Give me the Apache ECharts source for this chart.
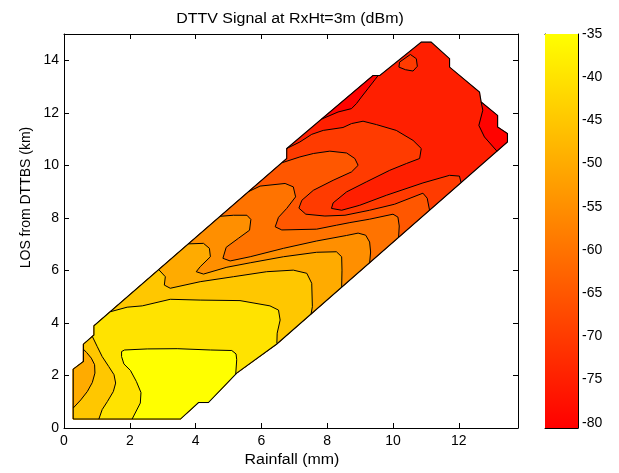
<!DOCTYPE html>
<html><head><meta charset="utf-8">
<script src="https://cdn.jsdelivr.net/npm/echarts@6/dist/echarts.min.js"></script>
<style>html,body{margin:0;padding:0;background:#fff}#c{width:619px;height:473px}</style>
</head><body><div id="c"></div>
<script>
// ---------------- data ----------------
const titleText = 'DTTV Signal at RxHt=3m (dBm)';
const xName = 'Rainfall (mm)';
const yName = 'LOS from DTTBS (km)';
const xTicks = [0, 2, 4, 6, 8, 10, 12];
const yTicks = [0, 2, 4, 6, 8, 10, 12, 14];
const cbTicks = [-80, -75, -70, -65, -60, -55, -50, -45, -40, -35];
const xMax = 13.8, yMax = 15;
const cMin = -80.6, cMax = -35;

// outline of the measured area (rainfall mm, distance km)
const domainEdge = [[0.28,0.34],[0.28,2.24],[0.59,2.53],[0.59,3.19],[0.91,3.54],[0.91,3.89],[6.77,10.26],[6.77,10.64],[9.39,13.42],[9.60,13.42],[10.86,14.69],[11.16,14.69],[11.72,14.06],[11.72,13.74],[12.63,12.79],[12.68,12.41],[13.18,11.90],[13.18,11.46],[13.48,11.21],[13.48,10.89],[6.47,3.20],[5.25,2.09],[4.39,0.97],[4.09,0.97],[3.54,0.34]];

// contour lines (dBm levels)
const lvN40 = [[2.07,0.34],[2.32,0.95],[2.34,1.35],[2.20,1.77],[2.02,2.19],[1.82,2.44],[1.75,2.72],[1.75,2.91],[1.84,2.97],[2.53,3.01],[3.44,3.02],[4.45,2.97],[5.10,2.95],[5.23,2.82],[5.25,2.60],[5.22,2.05]];
const lvN45a = [[1.06,0.34],[1.16,0.70],[1.32,1.01],[1.50,1.39],[1.57,1.71],[1.52,2.03],[1.36,2.34],[1.16,2.72],[1.01,3.10],[0.86,3.49]];
const lvN50a = [[0.28,0.76],[0.51,1.07],[0.71,1.39],[0.86,1.73],[0.94,2.09],[0.93,2.41],[0.83,2.66],[0.69,2.87],[0.59,3.00]];
const lvN45b = [[1.42,4.43],[1.92,4.60],[2.38,4.65],[3.23,4.90],[4.14,4.87],[5.35,4.85],[6.26,4.65],[6.52,4.49],[6.57,4.11],[6.48,3.61],[6.47,3.22]];
const lvN50b = [[2.88,6.03],[3.08,5.76],[3.05,5.44],[3.23,5.32],[4.14,5.57],[5.15,5.76],[6.16,5.95],[6.97,6.01],[7.38,5.89],[7.53,5.51],[7.55,4.62],[7.51,4.33]];
const lvN55 = [[3.78,7.01],[4.24,7.03],[4.42,6.84],[4.45,6.52],[4.14,6.14],[4.02,5.95],[4.24,5.86],[4.95,6.12],[5.66,6.29],[6.67,6.52],[7.68,6.69],[8.28,6.71],[8.44,6.52],[8.45,6.01],[8.44,5.37]];
const lvN60 = [[4.75,8.06],[5.15,8.10],[5.56,8.10],[5.68,7.94],[5.64,7.53],[5.30,7.22],[4.93,6.88],[4.83,6.46],[5.05,6.36],[5.66,6.52],[6.67,6.84],[7.68,7.12],[8.59,7.33],[8.94,7.42],[9.17,7.34],[9.29,7.08],[9.32,6.70],[9.29,6.29]];
const lvN65 = [[5.61,9.00],[5.96,9.21],[6.72,9.31],[6.97,9.18],[7.04,8.80],[6.77,8.36],[6.52,8.02],[6.42,7.66],[6.62,7.54],[7.68,7.57],[8.28,7.72],[8.69,7.82],[9.29,7.95],[10.00,8.14],[10.15,8.03],[10.19,7.69],[10.17,7.26]];
const lvN70 = [[6.63,10.10],[7.17,10.32],[7.58,10.45],[8.08,10.54],[8.59,10.47],[8.84,10.26],[8.94,10.00],[8.74,9.75],[8.18,9.43],[7.58,9.05],[7.23,8.67],[7.14,8.37],[7.35,8.14],[7.93,8.07],[8.54,8.10],[9.29,8.29],[10.05,8.52],[10.91,8.94],[11.04,8.75],[11.11,8.30]];
const lvN75 = [[6.77,10.64],[7.17,10.89],[7.53,11.18],[7.88,11.33],[8.48,11.44],[8.74,11.59],[9.09,11.68],[9.50,11.55],[10.10,11.33],[10.61,10.95],[10.86,10.64],[10.81,10.26],[10.41,10.07],[9.90,9.81],[9.19,9.37],[8.59,8.99],[8.18,8.57],[8.13,8.36],[8.44,8.29],[8.99,8.48],[9.80,8.86],[10.91,9.33],[11.72,9.62],[12.02,9.59],[12.07,9.34]];
const lvN75island = [[10.18,13.74],[10.20,13.93],[10.53,14.22],[10.71,14.06],[10.74,13.77],[10.61,13.59],[10.38,13.64]];
const lvN80a = [[7.83,11.76],[8.33,12.03],[8.74,12.16],[8.89,12.35],[9.04,12.60],[9.24,12.92],[9.45,13.26],[9.55,13.42]];
const lvN80b = [[12.68,12.41],[12.73,12.10],[12.61,11.52],[12.78,11.08],[13.16,10.54]];

// level, which side (away from the deep-red core) is higher, points
const contourSet = [
  {level: -40, side: 'hi', pts: lvN40},
  {level: -45, side: 'lo', pts: lvN45a},
  {level: -50, side: 'lo', pts: lvN50a},
  {level: -45, side: 'hi', pts: lvN45b},
  {level: -50, side: 'hi', pts: lvN50b},
  {level: -55, side: 'hi', pts: lvN55},
  {level: -60, side: 'hi', pts: lvN60},
  {level: -65, side: 'hi', pts: lvN65},
  {level: -70, side: 'hi', pts: lvN70},
  {level: -75, side: 'hi', pts: lvN75},
  {level: -75, side: 'hi', pts: lvN75island, closed: true},
  {level: -80, side: 'lo', pts: lvN80a},
  {level: -80, side: 'lo', pts: lvN80b}
];
const coreLevelBand = -75;   // band (-80,-75] fills the core
const corePoint = [11.5, 12.5];
const levelStep = 5;

// ---------------- helpers ----------------
function autumn(v) {
  const g = Math.max(0, Math.min(1, (v - cMin) / (cMax - cMin)));
  return 'rgb(255,' + Math.round(255 * g) + ',0)';
}
function inPoly(p, poly) {
  let c = false;
  for (let i = 0, j = poly.length - 1; i < poly.length; j = i++) {
    const a = poly[i], b = poly[j];
    if (((a[1] > p[1]) !== (b[1] > p[1])) &&
        (p[0] < (b[0] - a[0]) * (p[1] - a[1]) / (b[1] - a[1]) + a[0])) c = !c;
  }
  return c;
}
function area(poly) {
  let s = 0;
  for (let i = 0; i < poly.length; i++) {
    const a = poly[i], b = poly[(i + 1) % poly.length];
    s += a[0] * b[1] - b[0] * a[1];
  }
  return Math.abs(s / 2);
}
const ringN = domainEdge.length;
const cum = [0];
for (let i = 0; i < ringN; i++) {
  const a = domainEdge[i], b = domainEdge[(i + 1) % ringN];
  cum.push(cum[i] + Math.hypot(b[0] - a[0], b[1] - a[1]));
}
const ringLen = cum[ringN];
function ringPos(p) {
  let best = null;
  for (let i = 0; i < ringN; i++) {
    const a = domainEdge[i], b = domainEdge[(i + 1) % ringN];
    const dx = b[0] - a[0], dy = b[1] - a[1];
    const L2 = dx * dx + dy * dy;
    let t = L2 ? ((p[0] - a[0]) * dx + (p[1] - a[1]) * dy) / L2 : 0;
    t = Math.max(0, Math.min(1, t));
    const q = [a[0] + t * dx, a[1] + t * dy];
    const d = Math.hypot(q[0] - p[0], q[1] - p[1]);
    if (!best || d < best.d) best = {d: d, s: cum[i] + t * Math.sqrt(L2)};
  }
  return best.s;
}
function walkForward(sFrom, sTo) {
  const d = ((sTo - sFrom) % ringLen + ringLen) % ringLen;
  const out = [];
  for (let j = 0; j < ringN; j++) {
    const off = ((cum[j] - sFrom) % ringLen + ringLen) % ringLen;
    if (off > 1e-9 && off < d) out.push({off: off, p: domainEdge[j]});
  }
  out.sort((a, b) => a.off - b.off);
  return out.map(o => o.p);
}

// build fill regions
const regions = [];
contourSet.forEach(c => {
  let poly;
  if (c.closed) {
    poly = c.pts.slice();
  } else {
    const s0 = ringPos(c.pts[0]);
    const s1 = ringPos(c.pts[c.pts.length - 1]);
    const polyA = c.pts.concat(walkForward(s1, s0));
    const polyB = c.pts.concat(walkForward(s0, s1).reverse());
    poly = inPoly(corePoint, polyA) ? polyB : polyA;
  }
  const bandTop = c.side === 'hi' ? c.level + levelStep : c.level;
  regions.push({pts: poly, color: autumn(bandTop), a: area(poly)});
});
regions.sort((a, b) => b.a - a.a);
regions.unshift({pts: domainEdge, color: autumn(coreLevelBand), a: area(domainEdge)});

// ---------------- chart ----------------
const FONT = '"Liberation Sans", Arial, Helvetica, sans-serif';
const chart = echarts.init(document.getElementById('c'), null, {renderer: 'canvas'});

function mainAxis(pos, isX, withLabels) {
  const ticks = isX ? xTicks : yTicks;
  return {
    gridIndex: 0, type: 'value', position: pos,
    min: 0, max: isX ? xMax : yMax, interval: 2,
    axisLine: {show: true, onZero: false, lineStyle: {color: '#000', width: 1}},
    axisTick: {show: true, inside: true, length: 5, customValues: ticks, lineStyle: {color: '#000', width: 1}},
    axisLabel: {show: withLabels, customValues: ticks, color: '#000', fontSize: 14, fontFamily: FONT, margin: isX ? 6 : 5},
    splitLine: {show: false}
  };
}

const option = {
  animation: false,
  backgroundColor: '#fff',
  grid: [
    {left: 64, top: 34, width: 454, height: 394},
    {left: 545, top: 34, width: 33, height: 394}
  ],
  xAxis: [
    mainAxis('bottom', true, true),
    mainAxis('top', true, false),
    {gridIndex: 1, type: 'value', min: 0, max: 1, position: 'bottom',
     axisLine: {show: true, onZero: false, lineStyle: {color: '#000', width: 1}},
     axisTick: {show: false}, axisLabel: {show: false}, splitLine: {show: false}},
    {gridIndex: 1, type: 'value', min: 0, max: 1, position: 'top',
     axisLine: {show: true, onZero: false, lineStyle: {color: '#000', width: 1}},
     axisTick: {show: false}, axisLabel: {show: false}, splitLine: {show: false}}
  ],
  yAxis: [
    mainAxis('left', false, true),
    mainAxis('right', false, false),
    {gridIndex: 1, type: 'value', min: cMin, max: cMax, position: 'right',
     axisLine: {show: true, onZero: false, lineStyle: {color: '#000', width: 1}},
     axisTick: {show: true, inside: true, length: 4, customValues: cbTicks, lineStyle: {color: '#000'}},
     axisLabel: {show: true, customValues: cbTicks, color: '#000', fontSize: 14, fontFamily: FONT, margin: 4},
     splitLine: {show: false}},
    {gridIndex: 1, type: 'value', min: cMin, max: cMax, position: 'left',
     axisLine: {show: true, onZero: false, lineStyle: {color: '#000', width: 1}},
     axisTick: {show: true, inside: true, length: 4, customValues: cbTicks, lineStyle: {color: '#000'}},
     axisLabel: {show: false}, splitLine: {show: false}}
  ],
  graphic: [
    {type: 'text', x: 290, y: 19.5, z: 10, scaleX: 1.14, scaleY: 1,
     style: {text: titleText, font: '14px ' + FONT, fill: '#000', align: 'center', verticalAlign: 'middle', textAlign: 'center', textVerticalAlign: 'middle'}},
    {type: 'text', x: 292, y: 460, z: 10, scaleX: 1.14, scaleY: 1,
     style: {text: xName, font: '14px ' + FONT, fill: '#000', align: 'center', verticalAlign: 'middle', textAlign: 'center', textVerticalAlign: 'middle'}},
    {type: 'text', x: 26.5, y: 197.5, rotation: Math.PI / 2, z: 10,
     style: {text: yName, font: '14px ' + FONT, fill: '#000', align: 'center', verticalAlign: 'middle', textAlign: 'center', textVerticalAlign: 'middle'}}
  ],
  series: [
    {
      type: 'custom', name: 'fills', xAxisIndex: 0, yAxisIndex: 0, clip: false, silent: true,
      data: regions.map(r => [r.pts[0][0], r.pts[0][1]]),
      renderItem: function (params, api) {
        const r = regions[params.dataIndex];
        return {type: 'polygon', shape: {points: r.pts.map(p => api.coord(p))},
                style: {fill: r.color, stroke: r.color, lineWidth: 0.5}};
      }
    },
    {
      type: 'custom', name: 'contours', xAxisIndex: 0, yAxisIndex: 0, clip: false, silent: true,
      data: contourSet.map(c => [c.pts[0][0], c.pts[0][1]]),
      renderItem: function (params, api) {
        const c = contourSet[params.dataIndex];
        const pts = c.pts.map(p => api.coord(p));
        if (c.closed) pts.push(pts[0]);
        return {type: 'polyline', shape: {points: pts},
                style: {fill: null, stroke: '#000', lineWidth: 1}};
      }
    },
    {
      type: 'custom', name: 'outline', xAxisIndex: 0, yAxisIndex: 0, clip: false, silent: true,
      data: [[domainEdge[0][0], domainEdge[0][1]]],
      renderItem: function (params, api) {
        const pts = domainEdge.map(p => api.coord(p));
        pts.push(pts[0]);
        return {type: 'polyline', shape: {points: pts},
                style: {fill: null, stroke: '#000', lineWidth: 1.1}};
      }
    },
    {
      type: 'custom', name: 'colorbar', xAxisIndex: 2, yAxisIndex: 2, clip: false, silent: true, z: 1,
      data: [[0.5, (cMin + cMax) / 2]],
      renderItem: function (params, api) {
        const a = api.coord([0, cMax]);
        const b = api.coord([1, cMin]);
        return {type: 'rect', shape: {x: a[0], y: a[1], width: b[0] - a[0], height: b[1] - a[1]},
                style: {fill: {type: 'linear', x: 0, y: 0, x2: 0, y2: 1,
                  colorStops: [{offset: 0, color: autumn(cMax)}, {offset: 1, color: autumn(cMin)}]}}};
      }
    }
  ]
};
chart.setOption(option);
</script>
</body></html>
